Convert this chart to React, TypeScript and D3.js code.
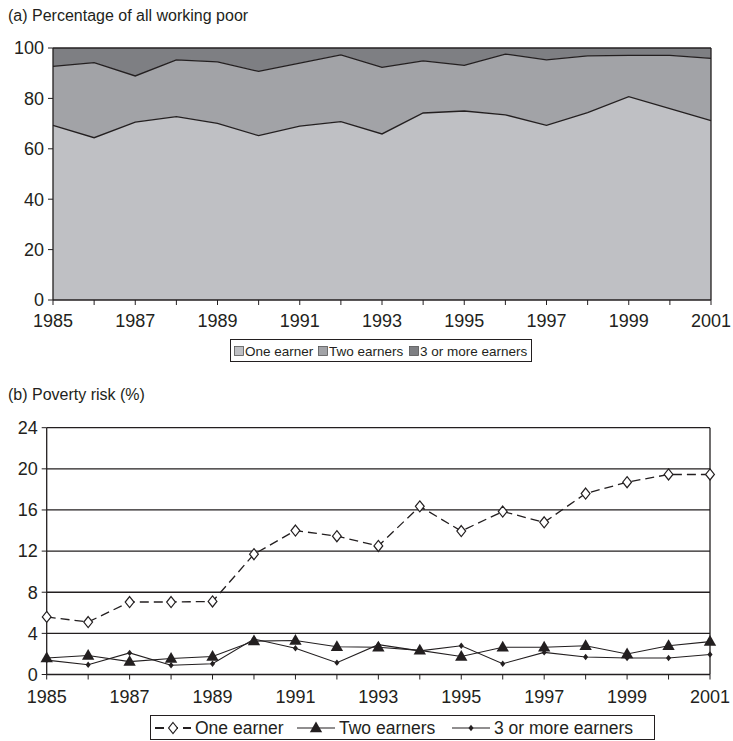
import React from "react";
import * as d3 from "d3";

const years = [1985,1986,1987,1988,1989,1990,1991,1992,1993,1994,1995,1996,1997,1998,1999,2000,2001];
// (a) shares of working poor (%), stacked
const shareOne = [69.3,64.4,70.6,72.8,70.1,65.2,69.0,70.8,65.9,74.2,75.0,73.5,69.3,74.4,80.7,75.9,71.2];
const shareOneTwo = [92.7,94.2,88.9,95.3,94.5,90.7,94.0,97.3,92.3,94.9,93.1,97.6,95.3,96.9,97.1,97.1,95.9];
// (b) poverty risk (%)
const riskOne = [5.6,5.1,7.05,7.05,7.1,11.7,14.0,13.45,12.5,16.35,13.95,15.85,14.8,17.6,18.7,19.45,19.45];
const riskTwo = [1.6,1.85,1.25,1.55,1.75,3.25,3.3,2.7,2.65,2.35,1.75,2.65,2.65,2.8,2.0,2.8,3.2];
const riskThree = [1.4,0.95,2.1,0.9,1.05,3.45,2.55,1.15,2.9,2.3,2.8,1.05,2.15,1.7,1.6,1.6,1.95];

const yTicksA = [0,20,40,60,80,100];
const yTicksB = [0,4,8,12,16,20,24];
const xLabels = [1985,1987,1989,1991,1993,1995,1997,1999,2001];
const legendA = ["One earner","Two earners","3 or more earners"];
const legendB = ["One earner","Two earners","3 or more earners"];

const FONT = "'Liberation Sans', Arial, Helvetica, sans-serif";
const C1 = "#bfc0c4", C2 = "#a2a3a7", C3 = "#7e7f83";
const INK = "#231f20";

export default function App() {
  const xa = d3.scaleLinear().domain([1985, 2001]).range([53, 711]);
  const ya = d3.scaleLinear().domain([0, 100]).range([300, 48]);
  const xb = d3.scaleLinear().domain([1985, 2001]).range([46.7, 710]);
  const yb = d3.scaleLinear().domain([0, 24]).range([674.5, 427.7]);

  const idx = years.map((_, i) => i);
  const areaOne = d3.area<number>().x(i => xa(years[i])).y0(() => ya(0)).y1(i => ya(shareOne[i]))(idx)!;
  const areaTwo = d3.area<number>().x(i => xa(years[i])).y0(i => ya(shareOne[i])).y1(i => ya(shareOneTwo[i]))(idx)!;
  const areaThree = d3.area<number>().x(i => xa(years[i])).y0(i => ya(shareOneTwo[i])).y1(() => ya(100))(idx)!;
  const lineOne = d3.line<number>().x(i => xa(years[i])).y(i => ya(shareOne[i]))(idx)!;
  const lineTwo = d3.line<number>().x(i => xa(years[i])).y(i => ya(shareOneTwo[i]))(idx)!;

  const lineB = (vals: number[]) => d3.line<number>().x(i => xb(years[i])).y(i => yb(vals[i]))(idx)!;

  const diamond = (cx: number, cy: number, r: number) => `M${cx},${cy - r}L${cx + r * 0.8},${cy}L${cx},${cy + r}L${cx - r * 0.8},${cy}Z`;
  const tri = (cx: number, cy: number, r: number) => `M${cx},${cy - r}L${cx + r * 0.95},${cy + r * 0.65}L${cx - r * 0.95},${cy + r * 0.65}Z`;

  const fs = 18;

  const legAx = [234, 318, 409];

  return (
    <svg width={733} height={741} style={{ position: "absolute", left: 0, top: 0, background: "#fff" }} fontFamily={FONT}>
      {/* ---------- (a) ---------- */}
      <text x={8} y={21} fontSize={16} fill={INK}>(a) Percentage of all working poor</text>
      <path d={areaOne} fill={C1} />
      <path d={areaTwo} fill={C2} />
      <path d={areaThree} fill={C3} />
      <path d={lineOne} fill="none" stroke={INK} strokeWidth={1.3} />
      <path d={lineTwo} fill="none" stroke={INK} strokeWidth={1.3} />
      <line x1={xa(1985)} x2={xa(2001)} y1={ya(100)} y2={ya(100)} stroke={INK} strokeWidth={1.3} />
      <line x1={xa(2001)} x2={xa(2001)} y1={ya(100)} y2={ya(0)} stroke={INK} strokeWidth={1.3} />
      <line x1={xa(1985)} x2={xa(1985)} y1={ya(100)} y2={ya(0)} stroke={INK} strokeWidth={1.3} />
      <line x1={xa(1985)} x2={xa(2001)} y1={ya(0)} y2={ya(0)} stroke={INK} strokeWidth={1.3} />
      {yTicksA.map(t => (
        <g key={t}>
          <line x1={xa(1985) - 5} x2={xa(1985)} y1={ya(t)} y2={ya(t)} stroke={INK} strokeWidth={1} />
          <text x={xa(1985) - 9} y={ya(t)} dy="0.35em" textAnchor="end" fontSize={fs} fill={INK}>{t}</text>
        </g>
      ))}
      {years.map(y => (
        <line key={y} x1={xa(y)} x2={xa(y)} y1={ya(0)} y2={ya(0) + 5} stroke={INK} strokeWidth={1} />
      ))}
      {xLabels.map(y => (
        <text key={y} x={xa(y)} y={ya(0) + 27} textAnchor="middle" fontSize={fs} fill={INK}>{y}</text>
      ))}
      {/* legend a */}
      <g>
        <rect x={230.5} y={339.5} width={301} height={22} fill="#fff" stroke={INK} strokeWidth={1} />
        {legendA.map((name, i) => {
          const xs = legAx[i];
          const col = [C1, C2, C3][i];
          return (
            <g key={name}>
              <rect x={xs + 0.5} y={346.5} width={9} height={9} fill={col} stroke="#555" strokeWidth={0.8} />
              <text x={xs + 11} y={351} dy="0.35em" fontSize={13.5} fill={INK}>{name}</text>
            </g>
          );
        })}
      </g>

      {/* ---------- (b) ---------- */}
      <text x={8} y={400} fontSize={16} fill={INK}>(b) Poverty risk (%)</text>
      {yTicksB.filter(t => t > 0).map(t => (
        <line key={t} x1={xb(1985)} x2={xb(2001)} y1={yb(t)} y2={yb(t)} stroke={INK} strokeWidth={1.3} />
      ))}
      <line x1={xb(2001)} x2={xb(2001)} y1={yb(24)} y2={yb(0)} stroke={INK} strokeWidth={1.3} />
      <line x1={xb(1985)} x2={xb(1985)} y1={yb(24)} y2={yb(0)} stroke={INK} strokeWidth={1.3} />
      <line x1={xb(1985)} x2={xb(2001)} y1={yb(0)} y2={yb(0)} stroke={INK} strokeWidth={1.3} />
      {yTicksB.map(t => (
        <g key={t}>
          <line x1={xb(1985) - 5} x2={xb(1985)} y1={yb(t)} y2={yb(t)} stroke={INK} strokeWidth={1} />
          <text x={xb(1985) - 9} y={yb(t)} dy="0.35em" textAnchor="end" fontSize={fs} fill={INK}>{t}</text>
        </g>
      ))}
      {years.map(y => (
        <line key={y} x1={xb(y)} x2={xb(y)} y1={yb(0)} y2={yb(0) + 5} stroke={INK} strokeWidth={1} />
      ))}
      {xLabels.map(y => (
        <text key={y} x={xb(y)} y={yb(0) + 28} textAnchor="middle" fontSize={fs} fill={INK}>{y}</text>
      ))}
      <path d={lineB(riskThree)} fill="none" stroke={INK} strokeWidth={1.1} />
      <path d={lineB(riskTwo)} fill="none" stroke={INK} strokeWidth={1.1} />
      <path d={lineB(riskOne)} fill="none" stroke={INK} strokeWidth={1.3} strokeDasharray="9,5" />
      {years.map((y, i) => (
        <path key={"t" + y} d={tri(xb(y), yb(riskTwo[i]), 6.5)} fill={INK} />
      ))}
      {years.map((y, i) => (
        <path key={"d3" + y} d={diamond(xb(y), yb(riskThree[i]), 3.2)} fill={INK} />
      ))}
      {years.map((y, i) => (
        <path key={"d1" + y} d={diamond(xb(y), yb(riskOne[i]), 5.5)} fill="#fff" stroke={INK} strokeWidth={1.2} />
      ))}
      {/* legend b */}
      <g>
        <rect x={150.5} y={715.5} width={504} height={24} fill="#fff" stroke={INK} strokeWidth={1} />
        {legendB.map((name, i) => {
          const xs = [155, 297, 452][i];
          const cy = 728;
          return (
            <g key={name}>
              {i === 0 ? (
                <>
                  <line x1={xs} x2={xs + 36} y1={cy} y2={cy} stroke={INK} strokeWidth={2.2} strokeDasharray="9,5" />
                  <path d={diamond(xs + 18, cy, 5.5)} fill="#fff" stroke={INK} strokeWidth={1.2} />
                </>
              ) : (
                <>
                  <line x1={xs} x2={xs + 38} y1={cy} y2={cy} stroke={INK} strokeWidth={1.1} />
                  {i === 1 ? <path d={tri(xs + 19, cy, 6.5)} fill={INK} /> : <path d={diamond(xs + 19, cy, 3.2)} fill={INK} />}
                </>
              )}
              <text x={xs + (i === 0 ? 40 : 42)} y={cy} dy="0.35em" fontSize={17.5} fill={INK}>{name}</text>
            </g>
          );
        })}
      </g>
    </svg>
  );
}
